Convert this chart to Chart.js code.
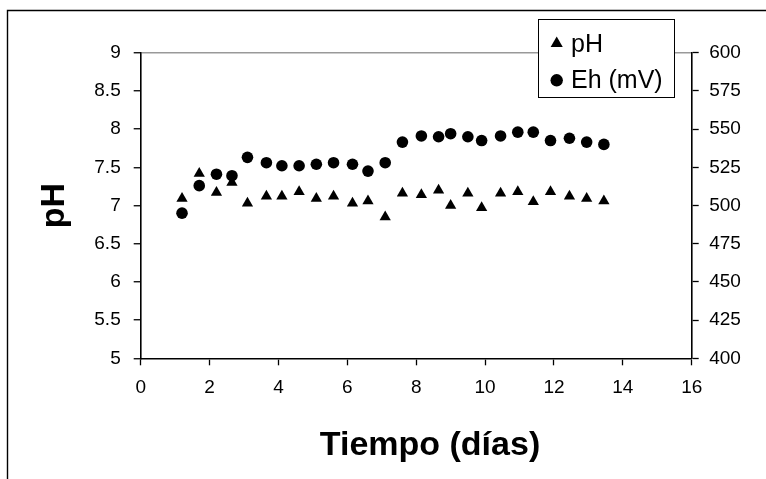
<!DOCTYPE html>
<html>
<head>
<meta charset="utf-8">
<script src="https://cdn.jsdelivr.net/npm/chart.js@4"></script>
<style>
  html, body { margin: 0; padding: 0; background: #fff; }
  #wrap { position: relative; width: 766px; height: 479px; }
</style>
</head>
<body>
<div id="wrap"><canvas id="chartPhEh"></canvas></div>
<script>
(function () {
  'use strict';

  // Sampling days (shared by both series)
  var DAYS = [1.2, 1.7, 2.2, 2.65, 3.1, 3.65, 4.1, 4.6, 5.1, 5.6, 6.15, 6.6, 7.1,
              7.6, 8.15, 8.65, 9.0, 9.5, 9.9, 10.45, 10.95, 11.4, 11.9, 12.45, 12.95, 13.45];

  var PH = [7.09, 7.42, 7.17, 7.30, 7.03, 7.12, 7.12, 7.18, 7.09, 7.12, 7.03, 7.06, 6.85,
            7.16, 7.14, 7.20, 7.00, 7.16, 6.97, 7.16, 7.18, 7.05, 7.18, 7.12, 7.09, 7.06];

  var EH = [495, 513, 520.5, 519.5, 531.5, 528, 526, 526, 527, 528, 527, 522.5, 528,
            541.5, 545.5, 545, 547, 545, 542.5, 545.5, 548, 548, 542.5, 544, 541.5, 540];

  // Axis ranges: [min, max, step]
  var DAY_AXIS = [0, 16, 2];
  var PH_AXIS = [5, 9, 0.5];
  var EH_AXIS = [400, 600, 25];

  var X_TITLE = 'Tiempo (días)';
  var Y_TITLE = 'pH';

  var FONT = "Arial, 'Liberation Sans', sans-serif";

  function points(ys) {
    return DAYS.map(function (d, i) { return { x: d, y: ys[i] }; });
  }

  // "9", "8.5", ... (no trailing .0)
  function plainNum(v) {
    return String(Math.round(v * 10) / 10);
  }

  // Outer frame (left + top edges only)
  var framePlugin = {
    id: 'frame',
    beforeDraw: function (chart) {
      var ctx = chart.ctx;
      ctx.save();
      ctx.strokeStyle = '#000';
      ctx.lineWidth = 1.4;
      ctx.beginPath();
      ctx.moveTo(7.5, 479);
      ctx.lineTo(7.5, 10.5);
      ctx.lineTo(766, 10.5);
      ctx.stroke();
      ctx.restore();
    }
  };

  // Boxed legend + x title
  var extrasPlugin = {
    id: 'extras',
    afterDraw: function (chart) {
      var ctx = chart.ctx;
      var ds = chart.data.datasets;
      ctx.save();

      ctx.fillStyle = '#fff';
      ctx.fillRect(538.5, 19.5, 136, 78);
      ctx.strokeStyle = '#000';
      ctx.lineWidth = 1;
      ctx.strokeRect(538.5, 19.5, 136, 78);

      ctx.fillStyle = '#000';
      Chart.helpers.drawPoint(ctx, { pointStyle: 'triangle', radius: 7, rotation: 0, borderWidth: 0 }, 556.7, 43.5);
      Chart.helpers.drawPoint(ctx, { pointStyle: 'circle', radius: 6.2, rotation: 0, borderWidth: 0 }, 556.7, 80.3);

      ctx.font = '25px ' + FONT;
      ctx.textAlign = 'left';
      ctx.textBaseline = 'alphabetic';
      ctx.fillText(ds[0].label, 571, 51.5);
      ctx.fillText(ds[1].label, 571, 87.5);

      ctx.font = 'bold 34px ' + FONT;
      ctx.textAlign = 'center';
      ctx.fillText(X_TITLE, 430, 455);

      ctx.restore();
    }
  };

  new Chart(document.getElementById('chartPhEh').getContext('2d'), {
    type: 'scatter',
    data: {
      datasets: [
        {
          label: 'pH',
          data: points(PH),
          yAxisID: 'y',
          pointStyle: 'triangle',
          pointRadius: 6.5,
          backgroundColor: '#000',
          borderColor: '#000',
          borderWidth: 0
        },
        {
          label: 'Eh (mV)',
          data: points(EH),
          yAxisID: 'y1',
          pointStyle: 'circle',
          pointRadius: 5.8,
          backgroundColor: '#000',
          borderColor: '#000',
          borderWidth: 0
        }
      ]
    },
    options: {
      responsive: true,
      maintainAspectRatio: false,
      animation: false,
      layout: { padding: { top: 52.7, left: 0, right: 0, bottom: 0 } },
      plugins: {
        legend: { display: false },
        tooltip: { enabled: false }
      },
      scales: {
        x: {
          type: 'linear',
          position: 'bottom',
          min: DAY_AXIS[0],
          max: DAY_AXIS[1],
          ticks: { stepSize: DAY_AXIS[2], color: '#000', font: { family: FONT, size: 19 }, padding: 11 },
          grid: { drawOnChartArea: false, tickColor: '#000', tickLength: 7, tickWidth: 1.3 },
          border: { color: '#000', width: 1.6 },
          afterFit: function (s) { s.height = 120.7; }
        },
        y: {
          position: 'left',
          min: PH_AXIS[0],
          max: PH_AXIS[1],
          ticks: { stepSize: PH_AXIS[2], color: '#000', font: { family: FONT, size: 19 }, padding: 13, callback: plainNum },
          grid: {
            color: function (c) { return c.tick && c.tick.value === PH_AXIS[1] ? '#999' : 'rgba(0,0,0,0)'; },
            lineWidth: 1.5,
            tickColor: '#000',
            tickLength: 7,
            tickWidth: 1.3
          },
          border: { color: '#000', width: 1.6 },
          title: { display: true, text: Y_TITLE, color: '#000', font: { family: FONT, size: 34, weight: 'bold' }, padding: { top: 34, bottom: 0 } },
          afterFit: function (s) { s.width = 140.7; }
        },
        y1: {
          position: 'right',
          min: EH_AXIS[0],
          max: EH_AXIS[1],
          ticks: { stepSize: EH_AXIS[2], color: '#000', font: { family: FONT, size: 19 }, padding: 10.5 },
          grid: { drawOnChartArea: false, tickColor: '#000', tickLength: 7, tickWidth: 1.3 },
          border: { color: '#000', width: 1.6 },
          afterFit: function (s) { s.width = 74.3; }
        }
      }
    },
    plugins: [framePlugin, extrasPlugin]
  });
})();
</script>
</body>
</html>
